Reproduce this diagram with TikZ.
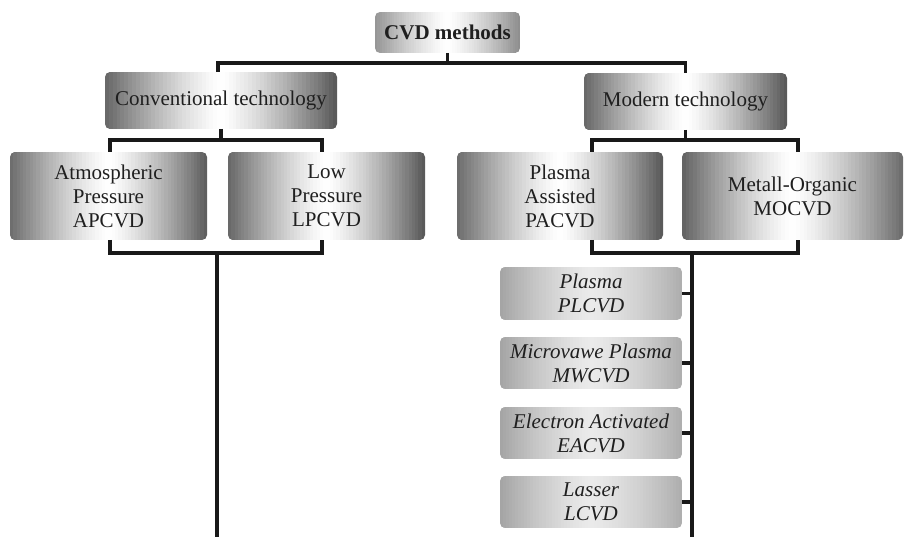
\documentclass[tikz,border=0pt]{standalone}
\usepackage{fontspec}
\setmainfont{Liberation Serif}
\usetikzlibrary{calc,backgrounds}
\newcommand\gbox[4]{%
\begin{pgfonlayer}{background}
\begin{scope}
\clip[rounded corners=5pt] (#1.north west) rectangle (#1.south east);
\foreach \i in {0,...,59}{
  \pgfmathsetmacro\ta{\i/60}
  \pgfmathsetmacro\tb{(\i+1.4)/60}
  \pgfmathsetmacro\u{abs(2*(\i+0.5)/60-1)}
  \pgfmathsetmacro\e{(\i<30)?#2:#4}
  \pgfmathsetmacro\d{#3+(\e-#3)*\u^1.3}
  \fill[black!\d] ($(#1.north west)!\ta!(#1.north east)$) rectangle ($(#1.south west)!\tb!(#1.south east)$);
}
\end{scope}
\end{pgfonlayer}}
\begin{document}
\begin{tikzpicture}[x=1pt,y=-1pt,
  every node/.style={inner sep=0pt, outer sep=0pt, align=center, text=black!88,
    font=\fontsize{21}{24}\selectfont},
  boxnode/.style={rounded corners=5pt},
  subbox/.style={rounded corners=5pt, minimum width=182pt, font=\fontsize{21}{24}\selectfont\itshape},
  conn/.style={line width=3.4pt, draw=black!90}]
\useasboundingbox (0,0) rectangle (905,537);

% nodes
\node[boxnode, minimum width=145pt, minimum height=41pt, font=\fontsize{21}{24}\selectfont\bfseries] (cvd) at (447.5,32.5) {CVD methods};
\node[boxnode, minimum width=232pt, minimum height=57pt] (conv) at (221,100.5) {Conventional technology};
\node[boxnode, minimum width=203pt, minimum height=57pt] (mod) at (685.5,101.5) {Modern technology};
\node[boxnode, minimum width=197pt, minimum height=88pt] (atm) at (108.5,196) {Atmospheric\\Pressure\\APCVD};
\node[boxnode, minimum width=197pt, minimum height=88pt] (low) at (326.5,196) {Low\\Pressure\\LPCVD};
\node[boxnode, minimum width=206pt, minimum height=88pt] (pa) at (560,196) {Plasma\\Assisted\\PACVD};
\node[boxnode, minimum width=221pt, minimum height=88pt] (mo) at (792.5,196) {Metall-Organic\\MOCVD};
\node[subbox, minimum height=53pt] (pl) at (591,293.5) {Plasma\\PLCVD};
\node[subbox, minimum height=52pt] (mw) at (591,363) {Microvawe Plasma\\MWCVD};
\node[subbox, minimum height=52pt] (ea) at (591,433) {Electron Activated\\EACVD};
\node[subbox, minimum height=52pt] (la) at (591,502) {Lasser\\LCVD};

% gradient backgrounds
\gbox{cvd}{42}{0}{45}
\gbox{conv}{60}{0}{66}
\gbox{mod}{60}{0}{66}
\gbox{atm}{58}{0}{64}
\gbox{low}{60}{0}{66}
\gbox{pa}{58}{0}{66}
\gbox{mo}{62}{0}{58}
\gbox{pl}{36}{8}{32}
\gbox{mw}{36}{8}{32}
\gbox{ea}{36}{8}{32}
\gbox{la}{36}{8}{32}

% coordinates of bars
\coordinate (b1) at (447.5,63);
\coordinate (b2) at (221,140);
\coordinate (b3) at (217,253);
\coordinate (e1) at (217,537);
\coordinate (b4) at (685.5,140);
\coordinate (b5) at (692,253);
\coordinate (e2) at (692,537);

% connectors
\draw[conn] (cvd.south) -- (b1);
\draw[conn] ([xshift=-3pt]conv.north) |- (b1) -| (mod.north);
\draw[conn] (conv.south) -- (b2);
\draw[conn] ([xshift=1.5pt]atm.north) |- (b2) -| ([xshift=-4.5pt]low.north);
\draw[conn] ([xshift=1.5pt]atm.south) |- (b3) -| ([xshift=-4.5pt]low.south);
\draw[conn] (b3) -- (e1);
\draw[conn] (mod.south) -- (b4);
\draw[conn] ([xshift=32pt]pa.north) |- (b4) -| ([xshift=5.5pt]mo.north);
\draw[conn] ([xshift=32pt]pa.south) |- (b5) -| ([xshift=5.5pt]mo.south);
\draw[conn] (b5) -- (e2);
\draw[conn] (pl.east) -- (pl.east -| b5);
\draw[conn] (mw.east) -- (mw.east -| b5);
\draw[conn] (ea.east) -- (ea.east -| b5);
\draw[conn] (la.east) -- (la.east -| b5);
\end{tikzpicture}
\end{document}
